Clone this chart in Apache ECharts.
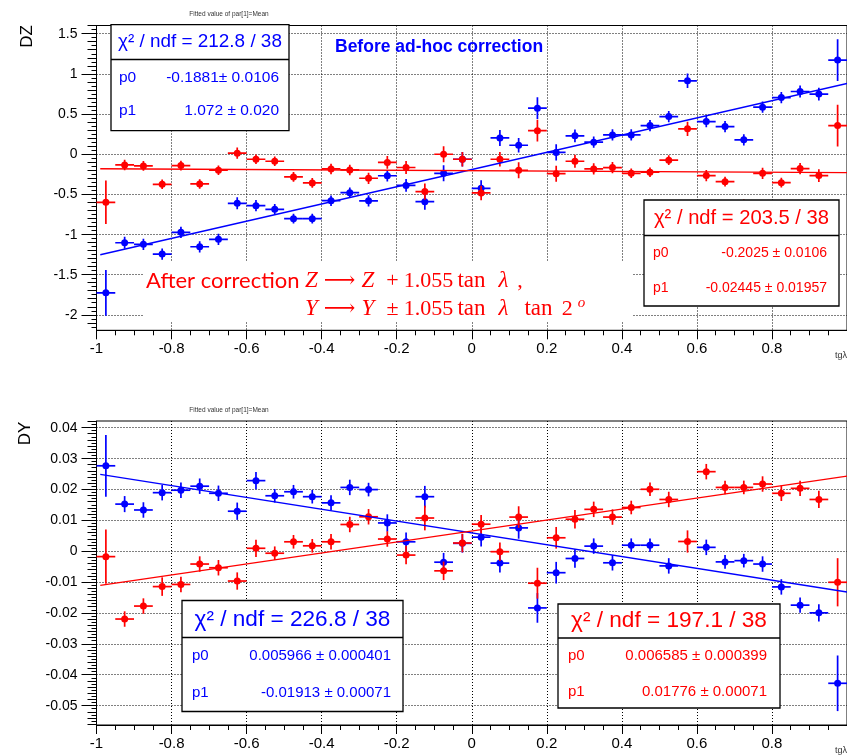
<!DOCTYPE html>
<html>
<head>
<meta charset="utf-8">
<script src="https://cdn.jsdelivr.net/npm/echarts@6/dist/echarts.min.js"></script>
<style>
  html, body { margin: 0; padding: 0; background: #fff; }
  #chart { width: 847px; height: 755px; }
</style>
</head>
<body>
<div id="chart"></div>
<script>
// tg(lambda) bin centres: 40 bins of width 0.05 covering [-1, 1]
const tglBins = [-0.975, -0.925, -0.875, -0.825, -0.775, -0.725, -0.675, -0.625, -0.575, -0.525,
                 -0.475, -0.425, -0.375, -0.325, -0.275, -0.225, -0.175, -0.125, -0.075, -0.025,
                  0.025,  0.075,  0.125,  0.175,  0.225,  0.275,  0.325,  0.375,  0.425,  0.475,
                  0.525,  0.575,  0.625,  0.675,  0.725,  0.775,  0.825,  0.875,  0.925,  0.975];
const binHalfWidth = 0.025;

// DZ: fitted mean per bin, before (blue) and after (red) the correction
const dzBefore = [-1.723, -1.10, -1.12, -1.241, -0.97, -1.15, -1.057, -0.609, -0.638, -0.684,
                  -0.80, -0.80, -0.576, -0.476, -0.578, -0.266, -0.386, -0.588, -0.235, -0.06,
                  -0.422, 0.205, 0.114, 0.576, 0.025, 0.231, 0.152, 0.243, 0.243, 0.359,
                   0.471, 0.916, 0.409, 0.347, 0.181, 0.588, 0.708, 0.783, 0.751, 1.175];
const dzBeforeErr = [0.285, 0.075, 0.07, 0.07, 0.07, 0.07, 0.07, 0.075, 0.07, 0.065,
                     0.06, 0.06, 0.065, 0.065, 0.07, 0.07, 0.08, 0.10, 0.10, 0.09,
                     0.10, 0.10, 0.09, 0.135, 0.10, 0.08, 0.07, 0.07, 0.07, 0.07,
                     0.07, 0.09, 0.07, 0.07, 0.07, 0.07, 0.07, 0.075, 0.08, 0.26];
const dzAfter = [-0.596, -0.131, -0.143, -0.372, -0.139, -0.368, -0.197, 0.015, -0.06, -0.085,
                 -0.28, -0.355, -0.181, -0.193, -0.297, -0.10, -0.163, -0.463, 0.002, -0.06,
                 -0.48, -0.06, -0.197, 0.295, -0.24, -0.085, -0.181, -0.164, -0.235, -0.222,
                 -0.072, 0.318, -0.264, -0.339, -0.66, -0.235, -0.352, -0.177, -0.264, 0.359];
const dzAfterErr = [0.27, 0.065, 0.06, 0.06, 0.06, 0.06, 0.06, 0.07, 0.06, 0.06,
                    0.06, 0.06, 0.065, 0.065, 0.07, 0.08, 0.08, 0.10, 0.10, 0.09,
                    0.09, 0.09, 0.10, 0.135, 0.10, 0.08, 0.07, 0.07, 0.06, 0.06,
                    0.06, 0.09, 0.07, 0.06, 0.10, 0.07, 0.06, 0.07, 0.08, 0.26];

// DY: fitted mean per bin, two track sets
const dyBlue = [0.0277, 0.0153, 0.0134, 0.019, 0.0198, 0.0211, 0.0188, 0.013, 0.0229, 0.018,
                0.0193, 0.0177, 0.0157, 0.0207, 0.020, 0.0092, 0.0031, 0.0177, -0.0035, 0.0026,
                0.0046, -0.0038, 0.0076, -0.0183, -0.0069, -0.0023, 0.0017, -0.0037, 0.002, 0.002,
                -0.0047, -0.030, 0.0013, -0.0034, -0.003, -0.0041, -0.0115, -0.0174, -0.0199, -0.0427];
const dyBlueErr = [0.010, 0.0026, 0.0025, 0.0025, 0.0025, 0.0025, 0.0025, 0.0028, 0.0028, 0.0022,
                   0.0022, 0.0022, 0.0025, 0.0025, 0.0022, 0.0028, 0.003, 0.0035, 0.003, 0.003,
                   0.003, 0.003, 0.0035, 0.0048, 0.0035, 0.003, 0.0025, 0.0025, 0.0022, 0.0022,
                   0.0025, 0.003, 0.0025, 0.0022, 0.0022, 0.0025, 0.0025, 0.0025, 0.0028, 0.009];
const dyRed = [-0.0017, -0.0219, -0.0177, -0.0114, -0.0107, -0.0041, -0.0053, -0.0096, 0.001, -0.0006,
               0.0031, 0.0018, 0.0031, 0.0087, 0.0112, 0.004, -0.0012, 0.0108, -0.0063, 0.0027,
               0.0088, -0.0001, 0.0111, -0.0103, 0.0044, 0.0104, 0.0136, 0.0111, 0.0142, 0.0201,
               0.0168, 0.0032, 0.0258, 0.0207, 0.0207, 0.0218, 0.0188, 0.0204, 0.0168, -0.010];
const dyRedErr = [0.0088, 0.0025, 0.0025, 0.003, 0.0025, 0.0025, 0.0025, 0.0028, 0.0028, 0.0022,
                  0.0022, 0.0022, 0.0025, 0.0025, 0.0025, 0.0025, 0.003, 0.004, 0.003, 0.003,
                  0.003, 0.003, 0.0035, 0.005, 0.0035, 0.003, 0.0025, 0.0025, 0.0022, 0.0022,
                  0.0025, 0.0036, 0.0025, 0.0022, 0.0022, 0.0025, 0.0025, 0.0025, 0.0028, 0.0078];

// straight-line fit results: [p0, p1]
const fitDzBefore = [-0.1881, 1.072];
const fitDzAfter = [-0.2025, -0.02445];
const fitDyBlue = [0.005966, -0.01913];
const fitDyRed = [0.006585, 0.01776];
const fitRange = [-0.99, 1.0];

// text of the fit statistics boxes
const statsDzBefore = ['212.8 / 38', '-0.1881\u00b1 0.0106', '1.072 \u00b1 0.020'];
const statsDzAfter = ['203.5 / 38', '-0.2025 \u00b1 0.0106', '-0.02445 \u00b1 0.01957'];
const statsDyBlue = ['226.8 / 38', '0.005966 \u00b1 0.000401', '-0.01913 \u00b1 0.00071'];
const statsDyRed = ['197.1 / 38', '0.006585 \u00b1 0.000399', '0.01776 \u00b1 0.00071'];

// axis ranges and tick labels
const xRange = [-1, 1];
const xTicks = [-1, -0.8, -0.6, -0.4, -0.2, 0, 0.2, 0.4, 0.6, 0.8];
const dzRange = [-2.19, 1.605];
const dzTicks = [-2, -1.5, -1, -0.5, 0, 0.5, 1, 1.5];
const dyRange = [-0.0562, 0.0422];
const dyTicks = [-0.05, -0.04, -0.03, -0.02, -0.01, 0, 0.01, 0.02, 0.03, 0.04];

const BLUE = '#0000ff';
const RED = '#ff0000';
const SANS = '"Liberation Sans", Arial, Helvetica, sans-serif';
const SERIF = '"Liberation Serif", "DejaVu Serif", serif';

function xAxisFor(g) {
  return {
    type: 'value', gridIndex: g, min: xRange[0], max: xRange[1], interval: 0.2,
    axisLine: { show: true, onZero: false, lineStyle: { color: '#000', width: 1 } },
    axisTick: { show: true, length: 9, lineStyle: { color: '#000', width: 1 } },
    minorTick: { show: true, splitNumber: 4, length: 5, lineStyle: { color: '#000', width: 1 } },
    axisLabel: { customValues: xTicks, fontFamily: SANS, fontSize: 15, color: '#000', margin: 11 },
    splitLine: { show: true, lineStyle: { color: '#000', width: 1, type: [1, 2] } }
  };
}

function yAxisFor(g, range, ticks) {
  return {
    type: 'value', gridIndex: g, min: range[0], max: range[1],
    axisLine: { show: true, onZero: false, lineStyle: { color: '#000', width: 1 } },
    axisTick: { show: false },
    splitLine: { show: false },
    axisLabel: { customValues: ticks, fontFamily: SANS, fontSize: 14, color: '#000', margin: 19 }
  };
}

function crisp(v) { return Math.round(v - 0.5) + 0.5; }

// horizontal dotted grid plus three-level ticks on the y axis
function yDecor(g, range, ticks, minorStep) {
  return {
    type: 'custom', xAxisIndex: g, yAxisIndex: g, z: 1, silent: true, clip: false,
    data: [[0, 0]],
    renderItem: function (params, api) {
      const kids = [];
      const xl = api.coord([xRange[0], 0])[0];
      const xr = api.coord([xRange[1], 0])[0];
      ticks.forEach(function (v) {
        const y = crisp(api.coord([0, v])[1]);
        kids.push({ type: 'line', shape: { x1: xl, y1: y, x2: xr, y2: y },
                    style: { stroke: '#000', lineWidth: 1, lineDash: [1, 2] } });
        kids.push({ type: 'line', shape: { x1: xl - 15, y1: y, x2: xl, y2: y },
                    style: { stroke: '#000', lineWidth: 1 } });
      });
      const k0 = Math.ceil(range[0] / minorStep - 1e-9);
      const k1 = Math.floor(range[1] / minorStep + 1e-9);
      for (let k = k0; k <= k1; k++) {
        if (k % 10 === 0) continue;
        const y = crisp(api.coord([0, k * minorStep])[1]);
        const len = (k % 2 === 0) ? 9 : 5;
        kids.push({ type: 'line', shape: { x1: xl - len, y1: y, x2: xl, y2: y },
                    style: { stroke: '#000', lineWidth: 1 } });
      }
      return { type: 'group', children: kids };
    }
  };
}

// markers with bin-width and statistical error bars
function pointsSeries(name, g, values, errors, color) {
  return {
    name: name, type: 'custom', xAxisIndex: g, yAxisIndex: g, z: 3, clip: true,
    encode: { x: 0, y: 1 },
    data: tglBins.map(function (x, i) { return [x, values[i], errors[i]]; }),
    renderItem: function (params, api) {
      const x = api.value(0), y = api.value(1), e = api.value(2);
      const c = api.coord([x, y]);
      const xl = api.coord([x - binHalfWidth, y])[0];
      const xr = api.coord([x + binHalfWidth, y])[0];
      const yt = api.coord([x, y + e])[1];
      const yb = api.coord([x, y - e])[1];
      const st = { stroke: color, lineWidth: 1.7 };
      return { type: 'group', children: [
        { type: 'line', shape: { x1: xl, y1: c[1], x2: xr, y2: c[1] }, style: st },
        { type: 'line', shape: { x1: c[0], y1: yt, x2: c[0], y2: yb }, style: st },
        { type: 'circle', shape: { cx: c[0], cy: c[1], r: 3.5 }, style: { fill: color } }
      ] };
    }
  };
}

function fitSeries(name, g, fit, color) {
  return {
    name: name, type: 'line', xAxisIndex: g, yAxisIndex: g, z: 4,
    showSymbol: false, silent: true,
    lineStyle: { color: color, width: 1.4 },
    data: fitRange.map(function (x) { return [x, fit[0] + fit[1] * x]; })
  };
}

function text(x, y, str, opts) {
  return {
    type: 'text', x: x, y: y, z: 100, silent: true,
    style: Object.assign({ text: str, fontFamily: SANS, fill: '#000', align: 'left', verticalAlign: 'middle' }, opts)
  };
}

// fit statistics box
function statBox(b, stats, color) {
  return [
    { type: 'rect', z: 99, silent: true, shape: { x: b.x, y: b.y, width: b.w, height: b.h },
      style: { fill: '#fff', stroke: '#000', lineWidth: 1.3 } },
    { type: 'line', z: 100, silent: true, shape: { x1: b.x, y1: b.sep, x2: b.x + b.w, y2: b.sep },
      style: { stroke: '#000', lineWidth: 1.3 } },
    text(b.x + b.w / 2, b.hy, '\u03c7\u00b2 / ndf = ' + stats[0],
         { fill: color, fontSize: b.hf, align: 'center' }),
    text(b.lx, b.r0, 'p0', { fill: color, fontSize: b.pf }),
    text(b.vx, b.r0, stats[1], { fill: color, fontSize: b.pf, align: 'right' }),
    text(b.lx, b.r1, 'p1', { fill: color, fontSize: b.pf }),
    text(b.vx, b.r1, stats[2], { fill: color, fontSize: b.pf, align: 'right' })
  ];
}

// rich-text styles for the correction formula
function mathTok(w, extra) {
  return Object.assign({ fontFamily: SERIF, fontSize: 22, fill: RED, width: w, align: 'center', lineHeight: 26 }, extra || {});
}
const formulaRich = {
  s: { fontFamily: 'Lato, "Open Sans", sans-serif', fontSize: 22, fill: RED, width: 154, align: 'left', lineHeight: 26 },
  v: mathTok(23, { fontStyle: 'italic', fontSize: 23 }),
  ar: mathTok(33),
  v2: mathTok(24, { fontStyle: 'italic', fontSize: 23 }),
  op: mathTok(25),
  num: mathTok(47),
  tan: mathTok(39, { fontSize: 23 }),
  lam: mathTok(25, { fontStyle: 'italic', fontSize: 23 }),
  cm: mathTok(8, { align: 'left' }),
  tan2: mathTok(45, { fontSize: 23 }),
  two: mathTok(12.5),
  sup: mathTok(16, { fontSize: 15, fontStyle: 'italic', verticalAlign: 'top', lineHeight: 26 })
};

const graphics = [].concat(
  // plot titles
  text(229, 14, 'Fitted value of par[1]=Mean', { fontSize: 6.5, fill: '#333', align: 'center' }),
  text(229, 410, 'Fitted value of par[1]=Mean', { fontSize: 6.5, fill: '#333', align: 'center' }),
  // axis titles
  Object.assign(text(27, 36.5, 'DZ', { fontSize: 17, align: 'center' }), { rotation: Math.PI / 2 }),
  Object.assign(text(25, 433.5, 'DY', { fontSize: 17, align: 'center' }), { rotation: Math.PI / 2 }),
  text(847, 356, 'tg\u03bb', { fontSize: 9, fill: '#333', align: 'right' }),
  text(847, 751, 'tg\u03bb', { fontSize: 9, fill: '#333', align: 'right' }),
  // annotations
  text(335, 47, 'Before ad-hoc correction', { fontSize: 17.5, fontWeight: 'bold', fill: BLUE }),
  [{ type: 'rect', z: 1.5, silent: true, shape: { x: 143, y: 262, width: 490, height: 59 },
     style: { fill: '#fff' } }],
  text(146, 281, '{s|After correction}{v|Z}{ar|\u27f6}{v2|Z}{op|+}{num|1.055}{tan|tan}{lam|\u03bb}{cm|,}',
       { fill: RED, rich: formulaRich }),
  text(300, 309, '{v|Y}{ar|\u27f6}{v2|Y}{op|\u00b1}{num|1.055}{tan|tan}{lam|\u03bb}{tan2|tan}{two|2}{sup|o}',
       { fill: RED, rich: formulaRich }),
  statBox({ x: 111, y: 24.7, w: 178, h: 106, sep: 59.5, hy: 42, hf: 18.9, lx: 119, vx: 279, r0: 77.5, r1: 110.5, pf: 15.5 },
          statsDzBefore, BLUE),
  statBox({ x: 644, y: 200, w: 195, h: 106, sep: 235.5, hy: 218, hf: 20.2, lx: 653, vx: 827, r0: 253.5, r1: 288, pf: 14 },
          statsDzAfter, RED),
  statBox({ x: 182, y: 600.5, w: 221, h: 111, sep: 637.5, hy: 619.5, hf: 22.6, lx: 192, vx: 391, r0: 656, r1: 692.5, pf: 15 },
          statsDyBlue, BLUE),
  statBox({ x: 558, y: 604, w: 222, h: 104, sep: 638, hy: 621, hf: 22.6, lx: 568, vx: 767, r0: 656, r1: 692, pf: 15 },
          statsDyRed, RED)
);

const option = {
  animation: false,
  backgroundColor: '#fff',
  grid: [
    { left: 96.5, top: 25.5, width: 752, height: 304.8, show: true, borderColor: '#000', borderWidth: 1 },
    { left: 96.5, top: 421, width: 752, height: 304, show: true, borderColor: '#000', borderWidth: 1 }
  ],
  xAxis: [xAxisFor(0), xAxisFor(1)],
  yAxis: [yAxisFor(0, dzRange, dzTicks), yAxisFor(1, dyRange, dyTicks)],
  series: [
    yDecor(0, dzRange, dzTicks, 0.05),
    yDecor(1, dyRange, dyTicks, 0.001),
    pointsSeries('DZ before', 0, dzBefore, dzBeforeErr, BLUE),
    pointsSeries('DZ after', 0, dzAfter, dzAfterErr, RED),
    fitSeries('DZ before fit', 0, fitDzBefore, BLUE),
    fitSeries('DZ after fit', 0, fitDzAfter, RED),
    pointsSeries('DY blue', 1, dyBlue, dyBlueErr, BLUE),
    pointsSeries('DY red', 1, dyRed, dyRedErr, RED),
    fitSeries('DY blue fit', 1, fitDyBlue, BLUE),
    fitSeries('DY red fit', 1, fitDyRed, RED)
  ],
  graphic: { elements: graphics }
};

const chart = echarts.init(document.getElementById('chart'));
chart.setOption(option);
</script>
</body>
</html>
